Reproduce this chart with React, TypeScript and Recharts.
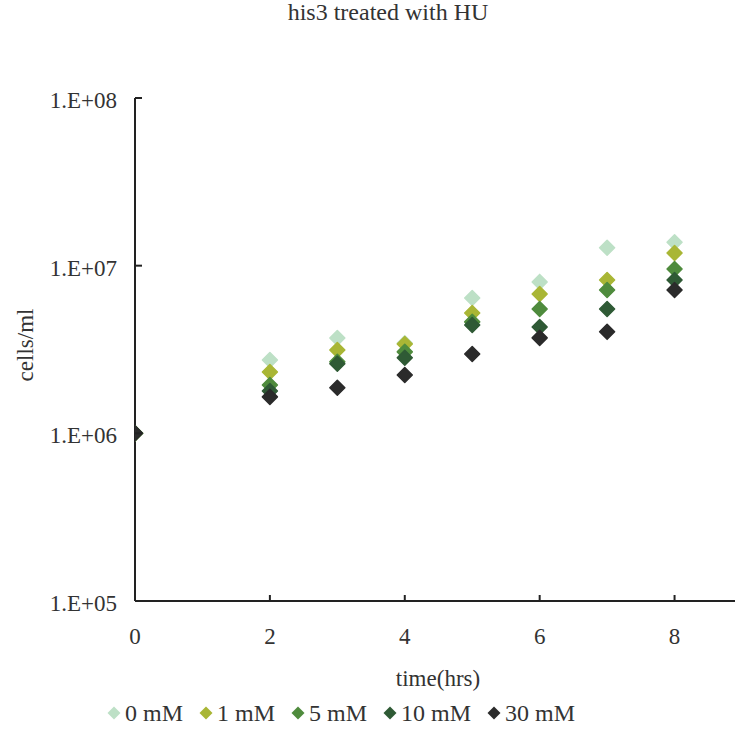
import { ScatterChart, Scatter, XAxis, YAxis, Label } from 'recharts';

const times = [0, 2, 3, 4, 5, 6, 7, 8];
const series = ['0 mM', '1 mM', '5 mM', '10 mM', '30 mM'];
const colors = ['#bde0c6', '#a9b635', '#4f8b3d', '#2f5a35', '#2b2b2b'];

const mM0 = [1.0e6, 2.74e6, 3.7e6, 3.45e6, 6.41e6, 8.0e6, 1.28e7, 1.38e7];
const mM1 = [1.0e6, 2.32e6, 3.14e6, 3.41e6, 5.22e6, 6.78e6, 8.22e6, 1.19e7];
const mM5 = [1.0e6, 1.94e6, 2.67e6, 3.06e6, 4.62e6, 5.52e6, 7.16e6, 9.55e6];
const mM10 = [1.0e6, 1.79e6, 2.6e6, 2.82e6, 4.43e6, 4.31e6, 5.52e6, 8.22e6];
const mM30 = [1.0e6, 1.65e6, 1.87e6, 2.23e6, 2.97e6, 3.71e6, 4.03e6, 7.16e6];

const values = [mM0, mM1, mM5, mM10, mM30];
const xTicks = [0, 2, 4, 6, 8];
const yTicks = [1e5, 1e6, 1e7, 1e8];

const FONT = '"Liberation Serif", "Times New Roman", serif';

const diamond = (color: string) => (props: any) => {
  const { cx, cy } = props;
  const r = 7.5;
  return (
    <polygon
      points={`${cx},${cy - r} ${cx + r},${cy} ${cx},${cy + r} ${cx - r},${cy}`}
      fill={color}
      stroke={color}
      strokeWidth={1.5}
      strokeLinejoin="round"
    />
  );
};

const XTick = (props: any) => {
  const { x, y, payload } = props;
  return (
    <g>
      {payload.value !== 0 && <line x1={x} y1={y} x2={x} y2={y - 6} stroke="#222" strokeWidth={2} />}
      <text x={x} y={y + 43} textAnchor="middle" fontFamily={FONT} fontSize={23} fill="#333">
        {payload.value}
      </text>
    </g>
  );
};

const YTick = (props: any) => {
  const { x, y, payload } = props;
  const exp = Math.round(Math.log10(payload.value));
  return (
    <g>
      {exp !== 5 && <line x1={x} y1={y} x2={x + 7} y2={y} stroke="#222" strokeWidth={2} />}
      <text x={x - 18} y={y + 10} textAnchor="end" fontFamily={FONT} fontSize={23} fill="#333">
        {`1.E+${String(exp).padStart(2, '0')}`}
      </text>
    </g>
  );
};

export default function App() {
  return (
    <div style={{ position: 'absolute', left: 0, top: 0, width: 735, height: 743, overflow: 'hidden', background: '#fff' }}>
      <div style={{ position: 'absolute', left: 0, width: 776, top: 0, lineHeight: '24px', textAlign: 'center', fontFamily: FONT, fontSize: 24, color: '#333' }}>
        his3 treated with HU
      </div>
      <ScatterChart width={745} height={743} margin={{ top: 98, right: 3, bottom: 112, left: 0 }}>
        <XAxis
          type="number"
          dataKey="x"
          domain={[0, 9]}
          ticks={xTicks}
          tickSize={0}
          tickMargin={0}
          tickLine={false}
          tick={<XTick />}
          axisLine={{ stroke: '#222', strokeWidth: 2 }}
          allowDataOverflow
        >
          <Label
            content={() => (
              <text x={438} y={686} textAnchor="middle" fontFamily={FONT} fontSize={23} fill="#333">
                time(hrs)
              </text>
            )}
          />
        </XAxis>
        <YAxis
          type="number"
          dataKey="y"
          scale="log"
          domain={[1e5, 1e8]}
          ticks={yTicks}
          width={135}
          tickSize={0}
          tickMargin={0}
          tickLine={false}
          tick={<YTick />}
          axisLine={{ stroke: '#222', strokeWidth: 2 }}
          allowDataOverflow
        >
          <Label
            content={() => (
              <text x={33} y={345} transform="rotate(-90 33 345)" textAnchor="middle" fontFamily={FONT} fontSize={23} fill="#333">
                cells/ml
              </text>
            )}
          />
        </YAxis>
        {series.map((name, i) => (
          <Scatter
            key={name}
            name={name}
            data={times.map((t, j) => ({ x: t, y: values[i][j] }))}
            fill={colors[i]}
            shape={diamond(colors[i])}
            isAnimationActive={false}
          />
        ))}
      </ScatterChart>
      <div style={{ position: 'absolute', left: 107, top: 701, display: 'flex', alignItems: 'center', lineHeight: '24px', fontFamily: FONT, fontSize: 24, color: '#333' }}>
        {series.map((name, i) => (
          <span key={name} style={{ display: 'flex', alignItems: 'center', marginRight: 16 }}>
            <svg width={14} height={14} style={{ marginRight: 4 }}>
              <polygon points="7,0.5 13.5,7 7,13.5 0.5,7" fill={colors[i]} />
            </svg>
            {name}
          </span>
        ))}
      </div>
    </div>
  );
}
